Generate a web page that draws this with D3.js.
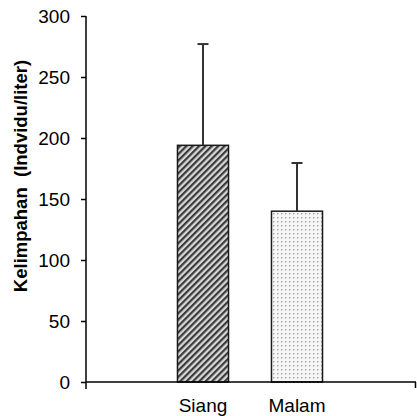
<!DOCTYPE html>
<html><head><meta charset="utf-8">
<script src="https://cdn.jsdelivr.net/npm/d3@7"></script>
<style>
html,body{margin:0;padding:0;background:#fff;}
svg{display:block;font-family:"Liberation Sans",Arial,Helvetica,sans-serif;}
</style></head>
<body>
<svg id="chart" width="417" height="416"></svg>
<script>
const categories = ["Siang", "Malam"];
const values = [194, 140];
const errors = [83, 39.5];
const yTicks = [0, 50, 100, 150, 200, 250, 300];
const yLabel = "Kelimpahan  (Indvidu/liter)";

const svg = d3.select("#chart");
const defs = svg.append("defs");
const hatch = defs.append("pattern").attr("id","hatch").attr("patternUnits","userSpaceOnUse")
  .attr("width",4.5).attr("height",4.5).attr("patternTransform","rotate(45)");
hatch.append("rect").attr("width",4.5).attr("height",4.5).attr("fill","#d8d8d8");
hatch.append("rect").attr("width",2.2).attr("height",4.5).attr("fill","#3a3a3a");
const dots = defs.append("pattern").attr("id","dots").attr("patternUnits","userSpaceOnUse")
  .attr("width",4).attr("height",4);
dots.append("rect").attr("width",4).attr("height",4).attr("fill","#f6f6f6");
dots.append("rect").attr("x",1).attr("y",1).attr("width",1.4).attr("height",1.4).attr("fill","#a0a0a0");
const fills = ["url(#hatch)","url(#dots)"];

const x0 = 86, x1 = 416, yTop = 16, yBot = 382;
const y = d3.scaleLinear().domain([0,300]).range([yBot, yTop]);
const x = d3.scaleBand().domain(categories).range([156,344]).paddingInner(0.457).paddingOuter(0.2285);

// bars
svg.selectAll("rect.bar").data(categories).enter().append("rect")
  .attr("class","bar")
  .attr("x", d=>x(d)).attr("width", x.bandwidth())
  .attr("y", (d,i)=>y(values[i])).attr("height",(d,i)=>y(0)-y(values[i]))
  .attr("fill",(d,i)=>fills[i]).attr("stroke","#1a1a1a").attr("stroke-width",1.5);

// error bars
categories.forEach((c,i)=>{
  const cx = x(c)+x.bandwidth()/2;
  svg.append("line").attr("x1",cx).attr("x2",cx).attr("y1",y(values[i])).attr("y2",y(values[i]+errors[i]))
    .attr("stroke","#333").attr("stroke-width",2);
  svg.append("line").attr("x1",cx-5.5).attr("x2",cx+5.5).attr("y1",y(values[i]+errors[i])).attr("y2",y(values[i]+errors[i]))
    .attr("stroke","#333").attr("stroke-width",2);
});

// y axis
const yAxis = d3.axisLeft(y).tickValues(yTicks).tickSize(5).tickPadding(11).tickFormat(d3.format("d"));
const gy = svg.append("g").attr("transform",`translate(${x0},0)`).call(yAxis);
gy.select(".domain").remove();
gy.selectAll(".tick line").attr("stroke","#000").attr("stroke-width",1.5);
gy.selectAll(".tick text").attr("font-size",19).attr("fill","#000").attr("font-family","Liberation Sans, Arial, sans-serif");
svg.append("line").attr("x1",x0).attr("x2",x0).attr("y1",yTop).attr("y2",yBot+7).attr("stroke","#000").attr("stroke-width",1.5);

// x axis
svg.append("line").attr("x1",x0).attr("x2",x1).attr("y1",yBot).attr("y2",yBot).attr("stroke","#000").attr("stroke-width",1.5);
svg.append("line").attr("x1",x1-0.5).attr("x2",x1-0.5).attr("y1",yBot).attr("y2",yBot+6).attr("stroke","#000").attr("stroke-width",1.5);
svg.selectAll("text.xl").data(categories).enter().append("text").attr("class","xl")
  .attr("x", d=>x(d)+x.bandwidth()/2).attr("y", 412)
  .attr("text-anchor","middle").attr("font-size",19).attr("fill","#000").text(d=>d);

// y label
svg.append("text").attr("transform","translate(27,176) rotate(-90)")
  .attr("text-anchor","middle").attr("font-size",18.5).attr("font-weight","bold").attr("fill","#000")
  .attr("xml:space","preserve").style("white-space","pre").text(yLabel);
</script>
</body></html>
